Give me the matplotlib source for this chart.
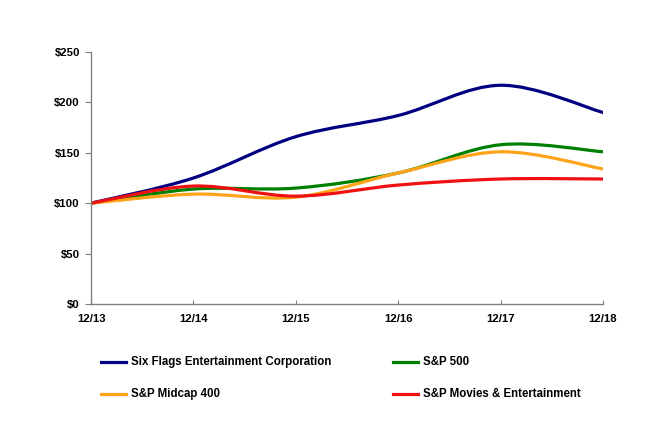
import matplotlib
matplotlib.use("Agg")
import matplotlib.pyplot as plt
from matplotlib.path import Path
from matplotlib.patches import PathPatch
from matplotlib.lines import Line2D
import numpy as np

categories = ["12/13", "12/14", "12/15", "12/16", "12/17", "12/18"]
six_flags = [100, 125, 166, 187, 217, 190]
sp500 = [100, 114, 115, 130, 158, 151]
midcap400 = [100, 109, 106, 130, 151, 134]
movies_ent = [100, 117, 107, 118, 124, 124]

series = [
    ("Six Flags Entertainment Corporation", six_flags, "#000080"),
    ("S&P 500", sp500, "#008000"),
    ("S&P Midcap 400", midcap400, "#FFA319"),
    ("S&P Movies & Entertainment", movies_ent, "#EE1111"),
]

plt.rcParams['font.family'] = ['Liberation Sans', 'DejaVu Sans']
plt.rcParams['font.weight'] = 'bold'

fig = plt.figure(figsize=(6.55, 4.21), dpi=100)
ax = fig.add_axes([91/655, 1-304/421, (603-91)/655, (304-52)/421])


def smooth_path(xs, ys):
    # Excel-style smoothed line: Catmull-Rom Bezier segments
    pts = np.column_stack([xs, ys]).astype(float)
    n = len(pts)
    verts = [pts[0]]
    codes = [Path.MOVETO]
    for i in range(n - 1):
        p0 = pts[i - 1] if i > 0 else pts[i]
        p1 = pts[i]
        p2 = pts[i + 1]
        p3 = pts[i + 2] if i + 2 < n else pts[i + 1]
        c1 = p1 + (p2 - p0) / 6.0
        c2 = p2 - (p3 - p1) / 6.0
        verts += [c1, c2, p2]
        codes += [Path.CURVE4] * 3
    return Path(verts, codes)


x = np.arange(len(categories))
for label, vals, color in series:
    p = smooth_path(x, vals)
    patch = PathPatch(p, facecolor='none', edgecolor=color, lw=2.3,
                      capstyle='round', joinstyle='round')
    ax.add_patch(patch)

ax.set_xlim(0, len(categories) - 1)
ax.set_ylim(0, 250)
ax.set_yticks([0, 50, 100, 150, 200, 250])
ax.set_yticklabels(["$0", "$50", "$100", "$150", "$200", "$250"])
ax.set_xticks(x)
ax.set_xticklabels(categories)

for s in ['top', 'right']:
    ax.spines[s].set_visible(False)
for s in ['left', 'bottom']:
    ax.spines[s].set_color('#808080')
    ax.spines[s].set_linewidth(1.0)
ax.tick_params(axis='y', direction='out', length=4, color='#808080',
               labelsize=8.2, pad=4)
ax.tick_params(axis='x', direction='in', length=3, color='#808080',
               labelsize=8.2, pad=7)

# legend drawn manually
leg_pos = [(101, 362), (393, 362), (101, 394), (393, 394)]
for (label, vals, color), (lx, ly) in zip(series, leg_pos):
    fy = 1 - ly / 421
    fig.add_artist(Line2D([lx / 655, (lx + 25) / 655], [fy, fy], color=color,
                          lw=2.3, transform=fig.transFigure))
    fig.text((lx + 30) / 655, fy, label, fontsize=8.3, fontweight='bold',
             va='center', ha='left')

fig.savefig("out.png", dpi=100)
